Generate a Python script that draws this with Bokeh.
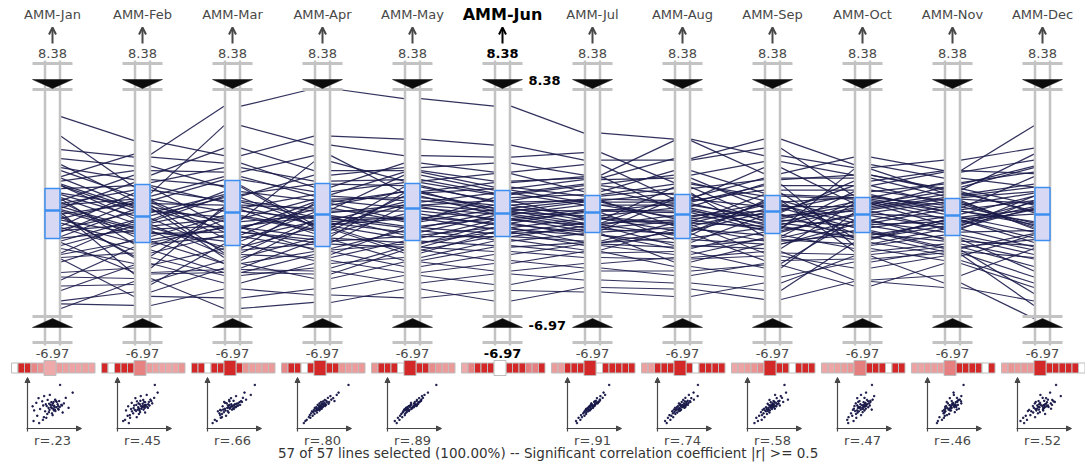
import numpy as np
from bokeh.plotting import figure
from bokeh.models import Range1d, ColumnDataSource, Arrow, NormalHead, OpenHead
from bokeh.embed import file_html
from bokeh.resources import INLINE
from bokeh.core.properties import value

# ---------------- data ----------------
months = ["Jan", "Feb", "Mar", "Apr", "May", "Jun", "Jul", "Aug", "Sep", "Oct", "Nov", "Dec"]
axis_labels = ["AMM-Jan", "AMM-Feb", "AMM-Mar", "AMM-Apr", "AMM-May", "AMM-Jun",
               "AMM-Jul", "AMM-Aug", "AMM-Sep", "AMM-Oct", "AMM-Nov", "AMM-Dec"]
selected_axis = 5
top_value = 8.38
bottom_value = -6.97
top_label = "8.38"
bottom_label = "-6.97"

jan = [2.5, 6.5, -0.8, -2.6, 4.3, -4.4, 0.9, -1.5, 1.1, 2.2,
       -3.2, 1.4, 0.4, -0.3, -5.1, 3.7, 0.2, -1.0, 1.7, -2.1,
       2.9, -0.6, 0.0, 3.1, -2.9, 0.6, -1.8, 1.9, -6.3, 0.7,
       2.4, -0.4, 1.3, -1.2, 5.2, -0.2, 0.3, 1.9, -3.9, 2.0,
       0.8, -0.9, -5.8, 0.5, 1.0, -2.3, -1.1, 3.3, -0.1, -1.6,
       0.1, -4.8, -2.7, -1.9, -3.0, -6.0, -4.2]
feb = [4.0, 4.9, 1.4, -0.5, 3.8, -2.2, 2.6, 0.3, -0.6, 2.9,
       -1.7, 0.6, 2.1, 0.9, -3.4, 3.2, -1.2, 0.1, 1.9, -0.8,
       1.2, -1.9, 0.7, 2.3, -2.6, 1.0, -0.4, 0.2, -4.5, 1.6,
       0.5, -1.3, -0.1, 0.8, 1.8, -2.8, -1.0, -0.3, -3.6, 0.4,
       -1.5, -2.4, -5.2, -0.9, -2.0, -3.3, -0.7, 0.9, -2.9, -1.1,
       -4.0, -4.7, -1.8, -3.9, -5.5, -6.1, -4.3]
mar = [7.2, 3.9, 5.9, 1.2, 3.4, -0.4, 4.4, -1.0, 0.4, 2.8,
       -0.9, -2.6, 3.1, 2.3, -2.3, 1.8, -1.8, 1.3, 0.8, -0.3,
       2.5, -0.9, 0.6, 1.9, -1.4, 0.2, 1.5, -0.2, -3.1, 0.9,
       -0.5, -1.2, 1.1, -1.6, -0.9, 0.3, -0.8, -2.4, 0.5, -2.9,
       -0.1, -3.9, -3.6, -2.2, -1.5, -4.6, -2.7, -1.2, -4.1, -3.3,
       -3.9, -2.0, -3.3, -3.7, -5.6, -5.0, -6.3]
apr = [8.38, 5.2, 4.6, 2.6, 1.8, 3.5, 2.9, 0.8, 1.3, 3.9,
       0.3, -0.4, 2.2, 1.5, 0.7, -0.9, 0.1, 2.0, -0.2, 1.0,
       1.2, -1.5, 0.4, -0.7, 0.6, -0.3, 0.9, -1.1, -0.6, 0.2,
       -0.1, -1.9, -0.8, -0.5, -2.4, -1.3, -0.2, -2.0, -0.7, -1.6,
       -1.0, -2.7, -1.8, -0.9, -2.3, -3.3, -2.9, -1.7, -3.6, -2.5,
       -4.0, -3.1, -4.3, -3.8, -5.0, -5.4, -5.9]
may = [7.7, 5.0, 3.9, 3.1, 3.4, 2.2, 2.9, 1.5, 2.8, 1.4,
       2.6, 0.8, 2.3, 2.1, -0.4, 1.8, 0.6, 1.9, -0.3, 1.1,
       0.9, 1.4, -0.5, 0.6, 1.5, -0.9, 0.4, 1.2, -1.2, 0.2,
       -0.8, 0.5, -1.6, -0.2, -2.0, 0.0, -1.4, -2.2, -0.3, -1.9,
       -2.6, -0.9, -1.5, -2.4, -1.1, -2.9, -1.8, -3.1, -2.2, -3.5,
       -2.4, -3.9, -3.2, -4.6, -4.1, -5.6, -5.0]
jun = [7.2, 4.6, 3.8, 3.4, 2.8, 2.7, 2.2, 2.1, 1.8, 1.7,
       1.6, 1.4, 1.4, 1.3, 1.1, 0.9, 0.9, 0.8, 0.6, 0.6,
       0.4, 0.4, 0.3, 0.2, 0.2, 0.1, 0.0, 0.0, -0.1, -0.3,
       -0.3, -0.4, -0.4, -0.6, -0.6, -0.7, -0.9, -0.9, -1.0, -1.2,
       -1.2, -1.3, -1.5, -1.5, -1.7, -1.8, -2.1, -2.2, -2.5, -2.7,
       -3.1, -3.3, -3.8, -4.0, -4.7, -5.1, -5.8]
jul = [5.4, 3.6, 4.1, 2.6, 3.3, 1.5, 2.4, 2.5, 1.2, 2.3,
       0.8, 2.0, 0.6, 1.9, 1.3, -0.3, 1.7, 0.9, -0.2, 1.0,
       -0.4, 0.9, 0.2, -0.6, 0.8, -0.1, -0.7, 0.6, -0.9, 0.3,
       -1.1, 0.1, -0.7, -1.4, 0.2, -1.2, -1.9, -0.3, -1.4, -0.6,
       -2.1, -1.0, -1.8, -0.8, -2.4, -1.3, -2.6, -1.9, -2.9, -2.0,
       -3.6, -2.5, -3.3, -4.4, -3.8, -5.2, -4.9]
aug = [5.0, 3.6, 2.1, 4.9, 1.0, 2.9, 3.7, 0.3, 1.7, 2.4,
       0.8, 2.6, -0.2, 1.3, 2.0, -1.1, 0.5, 1.4, -0.6, 0.9,
       1.8, -0.8, 0.1, 1.1, -0.3, 0.4, -1.4, 0.6, -0.5, 0.2,
       1.0, -1.7, -0.1, -2.3, 0.7, -0.9, -1.2, -0.7, -1.9, -0.4,
       -2.7, -1.3, -0.6, -2.1, -1.0, -3.2, -2.5, -1.6, -3.0, -2.2,
       -4.1, -3.5, -2.9, -4.6, -3.8, -5.5, -5.0]
sep = [3.9, 4.4, 0.9, 2.7, 3.1, 1.4, 5.0, -0.9, 2.3, 0.4,
       1.9, 3.5, 0.7, -0.5, 1.2, 0.1, 2.0, -1.5, 0.6, 1.6,
       -0.3, 0.3, -1.1, 2.4, 0.0, -0.7, 0.9, -0.2, 1.3, -0.6,
       0.5, -2.0, 0.2, -1.2, -0.4, -1.8, 0.8, -2.6, -0.1, -1.0,
       -1.6, -3.1, -0.8, -2.3, -1.4, -2.0, -3.6, -0.9, -2.8, -1.7,
       -3.3, -4.2, -2.5, -5.1, -3.4, -4.6, -5.7]
oct_ = [3.1, 1.2, -0.4, 3.8, 0.7, -1.6, 3.3, 1.5, 2.6, -0.9,
        1.9, 2.6, -1.3, 0.4, 1.0, 2.2, -2.1, 0.9, -0.6, 1.6,
        0.6, 1.3, -0.1, 2.4, -1.6, 0.3, -2.5, 0.8, 1.1, -1.2,
        0.5, -0.7, 1.9, 0.0, -0.8, -1.4, 1.1, -2.7, 0.2, 3.0,
        -0.5, -3.0, -1.7, 0.7, -2.3, -1.1, 0.1, -1.5, -3.6, -2.0,
        -0.4, -3.2, -4.4, -1.9, -4.8, -2.8, -4.5]
nov = [3.6, 0.4, 0.5, 2.9, 1.5, -0.8, 2.4, 2.0, 1.7, -0.2,
       2.8, 1.6, -1.8, 1.1, 0.2, 2.9, -1.4, 0.0, 0.3, 0.9,
       1.8, 0.2, -0.9, 1.2, -0.4, 1.0, -2.0, -0.3, 0.6, -2.3,
       1.3, -0.5, 0.7, -0.2, -1.6, -0.6, 2.1, -2.2, -1.0, 1.4,
       -1.2, -2.6, -0.4, -0.7, -3.1, -2.2, 0.8, -2.5, -2.8, -1.0,
       -1.7, -2.4, -4.1, -2.7, -3.3, -4.6, -4.9]
dec = [4.4, 2.5, -0.6, 5.9, 0.1, 1.2, 1.8, 3.2, 0.6, -1.2,
       3.6, 4.0, -2.1, 1.5, -0.7, 2.7, -2.4, 1.2, 0.9, -1.0,
       3.1, -0.5, 0.4, 1.8, -1.6, 0.7, -3.0, 0.0, 1.4, -1.3,
       2.0, 0.8, -0.9, 0.3, -2.7, 0.5, 2.8, -1.7, -2.2, 0.2,
       -1.1, -4.2, -1.9, 0.3, -4.6, -3.5, -0.8, -2.9, -1.4, 0.9,
       -3.8, -5.3, -2.3, -6.1, -4.9, -6.97, -5.8]

# interquartile boxes as drawn on each axis (upper quartile, median, lower quartile)
box_q3 = [1.71, 1.97, 2.24, 2.04, 2.04, 1.57, 1.24, 1.30, 1.24, 1.10, 1.04, 1.77]
box_median = [0.24, -0.16, 0.10, -0.03, 0.37, 0.04, 0.10, -0.03, 0.17, -0.03, -0.10, -0.03]
box_q1 = [-1.63, -1.90, -2.10, -2.16, -1.76, -1.50, -1.23, -1.63, -1.30, -1.23, -1.43, -1.76]

# correlation coefficients (rows: axis, columns: month)
corr_jan = [1.00, 0.62, 0.55, 0.42, 0.35, 0.23, 0.30, 0.28, 0.27, 0.26, 0.28, 0.27]
corr_feb = [0.62, 1.00, 0.70, 0.60, 0.55, 0.45, 0.30, 0.28, 0.27, 0.25, 0.27, 0.35]
corr_mar = [0.55, 0.70, 1.00, 0.72, 0.65, 0.66, 0.52, 0.35, 0.30, 0.28, 0.30, 0.32]
corr_apr = [0.42, 0.60, 0.72, 1.00, 0.80, 0.80, 0.72, 0.55, 0.35, 0.30, 0.30, 0.33]
corr_may = [0.35, 0.55, 0.65, 0.80, 1.00, 0.89, 0.82, 0.60, 0.40, 0.33, 0.30, 0.32]
corr_jun = [0.23, 0.45, 0.66, 0.80, 0.89, 1.00, 0.91, 0.74, 0.58, 0.47, 0.46, 0.52]
corr_jul = [0.30, 0.30, 0.52, 0.72, 0.82, 0.91, 1.00, 0.80, 0.65, 0.55, 0.52, 0.55]
corr_aug = [0.28, 0.30, 0.50, 0.55, 0.60, 0.74, 0.80, 1.00, 0.72, 0.62, 0.58, 0.60]
corr_sep = [0.25, 0.27, 0.30, 0.35, 0.42, 0.58, 0.65, 0.72, 1.00, 0.70, 0.62, 0.60]
corr_oct = [0.25, 0.25, 0.28, 0.30, 0.33, 0.47, 0.55, 0.62, 0.70, 1.00, 0.75, 0.65]
corr_nov = [0.27, 0.27, 0.30, 0.30, 0.30, 0.46, 0.52, 0.58, 0.62, 0.75, 1.00, 0.70]
corr_dec = [0.27, 0.35, 0.32, 0.33, 0.32, 0.52, 0.55, 0.60, 0.60, 0.65, 0.70, 1.00]

r_labels = ["r=.23", "r=.45", "r=.66", "r=.80", "r=.89", "", "r=.91", "r=.74",
            "r=.58", "r=.47", "r=.46", "r=.52"]
footer = "57 of 57 lines selected (100.00%)  --  Significant correlation coefficient  |r| >= 0.5"
significance = 0.5

data = [jan, feb, mar, apr, may, jun, jul, aug, sep, oct_, nov, dec]
corr = [corr_jan, corr_feb, corr_mar, corr_apr, corr_may, corr_jun,
        corr_jul, corr_aug, corr_sep, corr_oct, corr_nov, corr_dec]
n_ax = len(months)

# ---------------- layout helpers (page pixels -> data space) ----------------
W, H = 1085, 465
X0, STEP = 52.0, 90.0
V_TOP_PX, V_BOT_PX = 88.0, 318.0
K = (top_value - bottom_value) / (V_BOT_PX - V_TOP_PX)


def X(px):
    return (px - X0) / STEP


def DX(px):
    return px / STEP


def Y(py):
    return top_value - (py - V_TOP_PX) * K


FONT = value("DejaVu Sans")
GRAY = "#484848"
RAIL = "#c3c3c3"
NAVY = "#1b1b4b"

p = figure(width=W, height=H, x_range=Range1d(X(0), X(W)),
           y_range=Range1d(Y(H), Y(0)), output_backend="svg",
           toolbar_location=None, min_border=0)
p.axis.visible = False
p.grid.visible = False
p.outline_line_color = None
p.background_fill_color = "white"
p.border_fill_color = "white"

axes_x = list(range(n_ax))

# ---------------- polylines ----------------
x0s, y0s, x1s, y1s = [], [], [], []
for i in range(n_ax - 1):
    for a, b in zip(data[i], data[i + 1]):
        x0s.append(i + DX(8.5))
        x1s.append(i + 1 - DX(8.5))
        y0s.append(a)
        y1s.append(b)
p.segment(x0s, y0s, x1s, y1s, line_color=NAVY, line_width=1.2, line_alpha=0.9)

# ---------------- rails, cross bars, sliders ----------------
rx = []
for i in axes_x:
    for s in (-7.5, 7.5):
        rx.append(i + DX(s))
p.segment(rx, [Y(60)] * len(rx), rx, [Y(345)] * len(rx), line_color=RAIL, line_width=2.5)

bx0, bx1, by = [], [], []
for i in axes_x:
    for py in (63, 89, 316, 342):
        bx0.append(i - DX(20))
        bx1.append(i + DX(20))
        by.append(Y(py))
p.segment(bx0, by, bx1, by, line_color=RAIL, line_width=3)

txs, tys = [], []
for i in axes_x:
    txs.append([i - DX(20), i + DX(20), i])
    tys.append([Y(79), Y(79), Y(88)])
    txs.append([i - DX(20), i + DX(20), i])
    tys.append([Y(327), Y(327), Y(318)])
p.patches(txs, tys, fill_color="#0c0c0c", line_color="#0c0c0c", line_width=0.5)

# ---------------- quartile boxes ----------------
p.quad(left=[i - DX(7.5) for i in axes_x], right=[i + DX(7.5) for i in axes_x],
       bottom=box_q1, top=box_q3, fill_color="#d7d9f4", line_color="#3d8ef0", line_width=1.5)
p.segment([i - DX(7.5) for i in axes_x], box_median, [i + DX(7.5) for i in axes_x], box_median,
          line_color="#3d8ef0", line_width=2.5)

# ---------------- texts ----------------
is_sel = [i == selected_axis for i in axes_x]
tsrc = ColumnDataSource(dict(
    x=axes_x,
    title=axis_labels,
    top=[top_label] * n_ax,
    bot=[bottom_label] * n_ax,
    r=r_labels,
    color=["#000000" if s else GRAY for s in is_sel],
    style=["bold" if s else "normal" for s in is_sel],
    tsize=["16px" if s else "13px" for s in is_sel],
    ty=[Y(14)] * n_ax,
    topy=[Y(52.5)] * n_ax,
    boty=[Y(353)] * n_ax,
    ry=[Y(440)] * n_ax,
))
p.text(x="x", y="ty", text="title", source=tsrc, text_align="center", text_baseline="middle",
       text_font=FONT, text_font_size="tsize", text_color="color", text_font_style="style")
p.text(x="x", y="topy", text="top", source=tsrc, text_align="center", text_baseline="middle",
       text_font=FONT, text_font_size=value("13px"), text_color="color", text_font_style="style")
p.text(x="x", y="boty", text="bot", source=tsrc, text_align="center", text_baseline="middle",
       text_font=FONT, text_font_size=value("13px"), text_color="color", text_font_style="style")
p.text(x="x", y="ry", text="r", source=tsrc, text_align="center", text_baseline="middle",
       text_font=FONT, text_font_size=value("13px"), text_color=GRAY)

# selected axis range labels
p.text(x=[X(528)], y=[Y(80)], text=[top_label], text_align="left", text_baseline="middle",
       text_font=FONT, text_font_size=value("13px"), text_color="#000000", text_font_style="bold")
p.text(x=[X(528)], y=[Y(325)], text=[bottom_label], text_align="left", text_baseline="middle",
       text_font=FONT, text_font_size=value("13px"), text_color="#000000", text_font_style="bold")

# footer
p.text(x=[X(554)], y=[Y(452)], text=[footer], text_align="center", text_baseline="middle",
       text_font=FONT, text_font_size=value("13.5px"), text_color="#333333")

# top arrows
for sel in (False, True):
    idx = [i for i in axes_x if is_sel[i] == sel]
    col = "#000000" if sel else GRAY
    asrc = ColumnDataSource(dict(xs=idx, ys=[Y(43)] * len(idx), xe=idx, ye=[Y(27)] * len(idx)))
    p.add_layout(Arrow(end=OpenHead(size=7, line_color=col, line_width=2),
                       x_start="xs", y_start="ys", x_end="xe", y_end="ye",
                       source=asrc, line_color=col, line_width=2))

# ---------------- correlation strips ----------------
RED = (212, 40, 40)


def cell_color(r, self_cell):
    if self_cell:
        return "#ffffff"
    r = abs(r)
    if r >= significance:
        return "#d42828"
    t = 0.2 + 0.85 * r
    c = [int(round(255 * (1 - t) + RED[k] * t)) for k in range(3)]
    return "#%02x%02x%02x" % tuple(c)


cl, cr, cb, ct, cc = [], [], [], [], []
for i in axes_x:
    for j in axes_x:
        if j < selected_axis:
            l = -41 + 6.5 * j
            rr = l + 6.5
            y0, y1 = 372.5, 362.5
        elif j == selected_axis:
            l, rr = -8.5, 3.5
            y0, y1 = 375, 360
        else:
            l = 3.5 + 6.5 * (j - selected_axis - 1)
            rr = l + 6.5
            y0, y1 = 372.5, 362.5
        cl.append(i + DX(l))
        cr.append(i + DX(rr))
        cb.append(Y(y0))
        ct.append(Y(y1))
        cc.append(cell_color(corr[i][j], i == j))
order = sorted(range(len(cl)), key=lambda k: (ct[k] - cb[k]))
p.quad(left=[cl[k] for k in order], right=[cr[k] for k in order],
       bottom=[cb[k] for k in order], top=[ct[k] for k in order],
       fill_color=[cc[k] for k in order], line_color="#bdbdbd", line_width=1)

# ---------------- scatter plots (month vs selected) ----------------
span = top_value - bottom_value
sx, sy = [], []
ax_src = dict(xs=[], ys=[], xe=[], ye=[])
for i in axes_x:
    if i == selected_axis:
        continue
    for a, b in zip(data[i], data[selected_axis]):
        px = -22 + (a - bottom_value) / span * 48
        py = 426 - (b - bottom_value) / span * 45
        sx.append(i + DX(px))
        sy.append(Y(py))
    ax_src["xs"] += [i - DX(25), i - DX(26)]
    ax_src["ys"] += [Y(431), Y(428)]
    ax_src["xe"] += [i - DX(25), i + DX(29)]
    ax_src["ye"] += [Y(377), Y(428)]
p.add_layout(Arrow(end=NormalHead(size=5, fill_color=GRAY, line_color=GRAY),
                   x_start="xs", y_start="ys", x_end="xe", y_end="ye",
                   source=ColumnDataSource(ax_src), line_color=GRAY, line_width=1.2))
p.scatter(sx, sy, marker="square", size=1.3, fill_color=NAVY, line_color=NAVY)

open("out.html", "w").write(file_html(p, INLINE))
